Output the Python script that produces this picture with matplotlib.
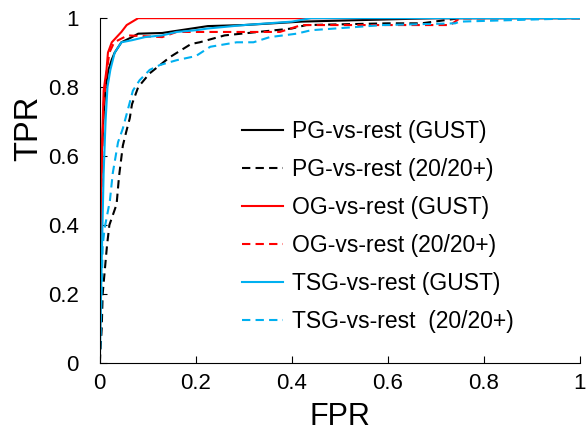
import matplotlib
matplotlib.use("Agg")
import matplotlib.pyplot as plt

plt.rcParams['font.family'] = ['Liberation Sans', 'DejaVu Sans']

# ROC points (FPR, TPR)
pg_gust_fpr = [0, 0.002, 0.004, 0.008, 0.012, 0.018, 0.025, 0.031, 0.045, 0.067, 0.08, 0.13, 0.225, 0.3, 0.42, 0.7, 1.0]
pg_gust_tpr = [0, 0.45, 0.6, 0.72, 0.8, 0.85, 0.88, 0.9, 0.93, 0.945, 0.955, 0.957, 0.977, 0.98, 0.99, 1.0, 1.0]

pg_2020_fpr = [0, 0.002, 0.004, 0.006, 0.015, 0.02, 0.035, 0.04, 0.048, 0.055, 0.0625, 0.067, 0.08, 0.104, 0.146, 0.19, 0.208, 0.26, 0.33, 0.4, 0.43, 0.6, 0.67, 0.75, 1.0]
pg_2020_tpr = [0, 0.05, 0.1, 0.2, 0.34, 0.4, 0.46, 0.54, 0.63, 0.67, 0.71, 0.75, 0.8, 0.84, 0.887, 0.925, 0.93, 0.95, 0.96, 0.97, 0.98, 0.985, 0.985, 1.0, 1.0]

og_gust_fpr = [0, 0.002, 0.004, 0.008, 0.014, 0.017, 0.025, 0.035, 0.045, 0.056, 0.08, 1.0]
og_gust_tpr = [0, 0.4, 0.6, 0.79, 0.85, 0.9, 0.93, 0.945, 0.96, 0.98, 1.0, 1.0]

og_2020_fpr = [0, 0.002, 0.004, 0.008, 0.014, 0.02, 0.03, 0.058, 0.13, 0.16, 0.375, 0.42, 0.73, 0.75, 1.0]
og_2020_tpr = [0, 0.3, 0.55, 0.75, 0.84, 0.9, 0.93, 0.95, 0.945, 0.96, 0.96, 0.98, 0.98, 1.0, 1.0]

tsg_gust_fpr = [0, 0.004, 0.008, 0.012, 0.016, 0.022, 0.031, 0.045, 0.067, 0.094, 0.13, 0.16, 0.2, 0.225, 0.3, 0.4, 0.44, 1.0]
tsg_gust_tpr = [0, 0.3, 0.55, 0.7, 0.8, 0.85, 0.9, 0.93, 0.936, 0.945, 0.95, 0.96, 0.965, 0.97, 0.98, 0.99, 1.0, 1.0]

tsg_2020_fpr = [0, 0.002, 0.004, 0.006, 0.01, 0.021, 0.027, 0.038, 0.048, 0.069, 0.083, 0.104, 0.125, 0.16, 0.2, 0.23, 0.285, 0.32, 0.354, 0.41, 0.44, 0.49, 0.59, 0.74, 0.75, 1.0]
tsg_2020_tpr = [0, 0.1, 0.21, 0.34, 0.39, 0.47, 0.55, 0.64, 0.68, 0.79, 0.82, 0.85, 0.864, 0.878, 0.89, 0.917, 0.93, 0.93, 0.945, 0.955, 0.965, 0.97, 0.98, 0.985, 0.99, 1.0]

labels = ["PG-vs-rest (GUST)", "PG-vs-rest (20/20+)", "OG-vs-rest (GUST)",
          "OG-vs-rest (20/20+)", "TSG-vs-rest (GUST)", "TSG-vs-rest  (20/20+)"]
ticks = [0, 0.2, 0.4, 0.6, 0.8, 1]
tick_labels = ["0", "0.2", "0.4", "0.6", "0.8", "1"]

fig = plt.figure(figsize=(5.87, 4.43), dpi=100)
ax = fig.add_axes([0.170, 0.181, 0.818, 0.778])

dash = (0, (4, 2.5))
ax.plot(pg_gust_fpr, pg_gust_tpr, color='black', lw=1.5, label=labels[0])
ax.plot(pg_2020_fpr, pg_2020_tpr, color='black', lw=1.5, ls=dash, label=labels[1])
ax.plot(og_gust_fpr, og_gust_tpr, color='#ff0000', lw=1.5, label=labels[2])
ax.plot(og_2020_fpr, og_2020_tpr, color='#ff0000', lw=1.5, ls=dash, label=labels[3])
ax.plot(tsg_gust_fpr, tsg_gust_tpr, color='#00b0f0', lw=1.5, label=labels[4])
ax.plot(tsg_2020_fpr, tsg_2020_tpr, color='#00b0f0', lw=1.5, ls=dash, label=labels[5])

ax.set_xlim(0, 1)
ax.set_ylim(0, 1)
ax.set_xticks(ticks)
ax.set_xticklabels(tick_labels)
ax.set_yticks(ticks)
ax.set_yticklabels(tick_labels)
ax.spines['top'].set_visible(False)
ax.spines['right'].set_visible(False)
ax.tick_params(direction='in', length=5, labelsize=16)
ax.tick_params(axis='x', pad=7)
ax.tick_params(axis='y', pad=15)
ax.set_xlabel("FPR", fontsize=22, labelpad=6)
ax.set_ylabel("TPR", fontsize=23.5)
ax.yaxis.set_label_coords(-0.115, 0.68)

ax.legend(loc='center left', bbox_to_anchor=(0.296, 0.396), frameon=False,
          fontsize=16.5, labelspacing=0.65, handlelength=1.8, handletextpad=0.4,
          borderpad=0, borderaxespad=0)

fig.savefig("out.png", dpi=100)
